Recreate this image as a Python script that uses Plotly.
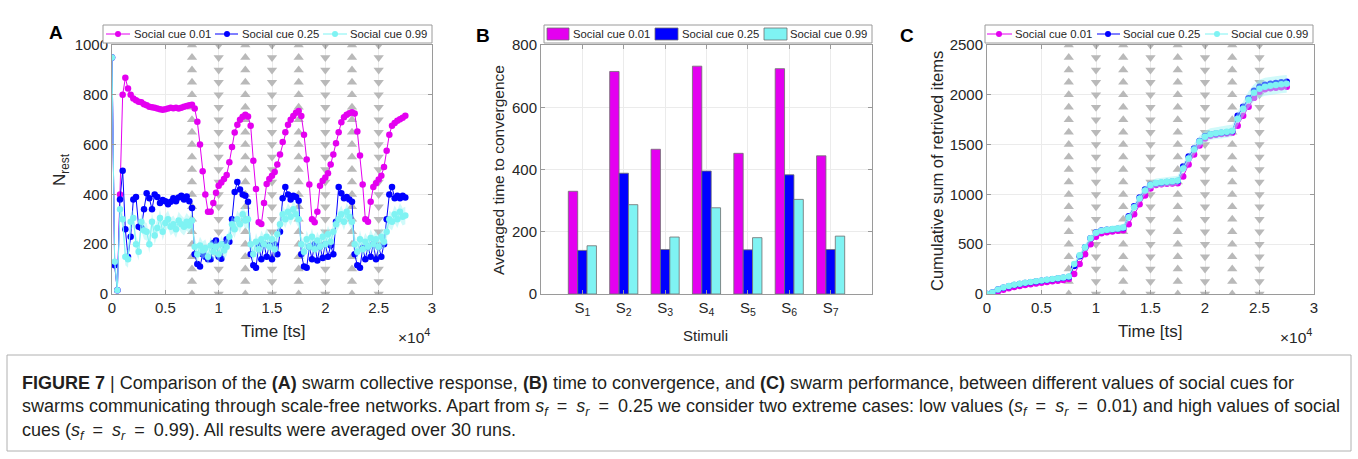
import numpy as np
import plotly.graph_objects as go

W, H = 1358, 459

# ---------------- Panel A data (time step 250 ts) ----------------
a_time = np.arange(0, 27501, 250)
a_cue001 = [950, 120, 15, 400, 800, 868, 825, 800, 785, 778, 772, 770, 762, 758, 752, 750,
            748, 745, 742, 740, 742, 745, 748, 746, 748, 745, 748, 752, 755, 758, 760, 745,
            692, 600, 493, 400, 330, 330, 365, 407, 435, 448, 462, 478, 529, 590, 649, 680,
            700, 712, 720, 713, 676, 535, 422, 288, 281, 365, 442, 462, 475, 490, 520, 560,
            610, 650, 680, 700, 715, 728, 735, 715, 640, 540, 440, 300, 288, 330, 435, 455,
            468, 485, 520, 560, 605, 650, 690, 710, 720, 726, 730, 725, 653, 556, 440, 300,
            290, 370, 430, 445, 460, 475, 510, 575, 640, 676, 687, 696, 702, 708, 716]
a_cue025 = [950, 115, 15, 380, 495, 260, 150, 230, 380, 390, 270, 265, 340, 405, 385, 340,
            400, 390, 365, 378, 372, 360, 370, 385, 372, 388, 395, 380, 392, 372, 345, 160,
            120, 110, 160, 150, 140, 140, 205, 215, 150, 142, 200, 220, 210, 300, 410, 450,
            420, 400, 395, 370, 160, 115, 105, 195, 140, 200, 150, 195, 140, 200, 160, 250,
            385, 430, 400, 380, 395, 390, 375, 160, 110, 105, 190, 140, 200, 135, 190, 145,
            200, 150, 195, 160, 290, 430, 405, 385, 390, 380, 370, 160, 115, 105, 185, 140,
            190, 150, 200, 140, 190, 150, 200, 300, 400, 430, 385, 395, 385, 395, 388]
a_cue099 = [950, 130, 15, 340, 300, 150, 140, 290, 305, 200, 170, 290, 255, 250, 200, 290,
            235, 265, 305, 250, 285, 300, 270, 280, 260, 295, 280, 270, 290, 275, 295, 190,
            160, 195, 175, 185, 150, 195, 170, 190, 160, 200, 175, 190, 230, 280, 260, 300,
            280, 320, 295, 300, 200, 160, 210, 180, 220, 200, 230, 190, 220, 180, 240, 280,
            320, 300, 330, 310, 340, 320, 300, 200, 170, 220, 190, 230, 180, 215, 190, 230,
            200, 240, 210, 250, 280, 300, 320, 290, 330, 310, 290, 200, 170, 220, 180, 210,
            190, 225, 200, 220, 190, 230, 210, 250, 300, 290, 320, 300, 330, 310, 315]
a_cue099_sem = 35

# ---------------- Panel B data ----------------
b_stimuli = ["S<sub>1</sub>", "S<sub>2</sub>", "S<sub>3</sub>", "S<sub>4</sub>",
             "S<sub>5</sub>", "S<sub>6</sub>", "S<sub>7</sub>"]
b_cue001 = [330, 715, 465, 732, 452, 724, 444]
b_cue025 = [140, 388, 143, 395, 142, 383, 143]
b_cue099 = [155, 287, 183, 277, 181, 304, 186]

# ---------------- Panel C data (time step 500 ts) ----------------
c_time = np.arange(0, 27501, 500)
c_cue001 = [0, 8, 25, 42, 58, 70, 80, 90, 98, 106, 113, 120, 127, 134, 141, 150,
            200, 300, 400, 500, 575, 610, 620, 628, 634, 640, 700, 800, 900, 990, 1060,
            1095, 1102, 1106, 1110, 1112, 1180, 1300, 1400, 1490, 1560, 1590, 1600, 1606,
            1612, 1620, 1690, 1790, 1880, 1970, 2030, 2055, 2065, 2070, 2075, 2080]
c_cue025 = [0, 15, 45, 62, 78, 90, 100, 110, 118, 126, 133, 140, 147, 155, 162, 170,
            280, 380, 470, 560, 618, 638, 645, 650, 655, 662, 780, 880, 970, 1050, 1098,
            1112, 1118, 1124, 1130, 1135, 1280, 1380, 1460, 1535, 1585, 1605, 1612, 1618,
            1625, 1635, 1790, 1880, 1965, 2040, 2080, 2100, 2110, 2118, 2125, 2130]
c_cue099 = [0, 15, 45, 65, 80, 92, 103, 112, 120, 128, 136, 143, 150, 158, 165, 175,
            300, 390, 470, 560, 615, 635, 645, 652, 658, 668, 770, 870, 960, 1040, 1095,
            1115, 1122, 1128, 1133, 1140, 1260, 1360, 1450, 1530, 1580, 1605, 1615, 1622,
            1628, 1640, 1760, 1860, 1950, 2020, 2060, 2080, 2090, 2098, 2105, 2110]
c_cue099_sem = [0, 3, 5, 5, 6, 6, 7, 7, 8, 8, 8, 9, 9, 10, 10, 10,
                20, 25, 28, 30, 30, 30, 30, 32, 32, 34, 40, 45, 45, 45, 45,
                45, 45, 46, 46, 48, 55, 60, 60, 60, 60, 60, 60, 62, 62, 62,
                70, 80, 85, 85, 90, 90, 90, 90, 90, 90]

# stimulus switch times (up / down triangles)
stim_up = [7500, 12500, 17500, 22500]
stim_down = [10000, 15000, 20000, 25000]

series_names = ["Social cue 0.01", "Social cue 0.25", "Social cue 0.99"]
MAG, BLU, CYA = "#e400f0", "#0000ff", "#7ff3f3"
COLORS = [MAG, BLU, CYA]
TRI = "#b9b9b9"
FONT = "Liberation Sans, Arial, Helvetica, sans-serif"
TXT = "#262626"


def px(x):
    return x / W


def py(y):
    return 1 - y / H


fig = go.Figure()


def triangles(xa, ya, ymax, n):
    lev = np.linspace(0, ymax, n)
    for times, sym in ((stim_up, "triangle-up"), (stim_down, "triangle-down")):
        xs, ys = [], []
        for t in times:
            xs += [t] * n
            ys += list(lev)
        fig.add_trace(go.Scatter(x=xs, y=ys, mode="markers", xaxis=xa, yaxis=ya,
                                 marker=dict(symbol=sym, size=9, color=TRI, line=dict(width=0)),
                                 showlegend=False, hoverinfo="skip"))


def line_series(xa, ya, t, vals, color, name):
    fig.add_trace(go.Scatter(x=t, y=vals, mode="lines+markers", name=name,
                             line=dict(color=color, width=1), marker=dict(size=6.5, color=color),
                             xaxis=xa, yaxis=ya))


def band(xa, ya, t, upper, lower):
    fig.add_trace(go.Scatter(x=np.concatenate([t, t[::-1]]), y=list(upper) + list(lower)[::-1],
                             fill="toself", fillcolor="rgba(150,245,245,0.45)",
                             line=dict(width=0), mode="lines", showlegend=False,
                             hoverinfo="skip", xaxis=xa, yaxis=ya))


# ---------- Panel A ----------
triangles("x", "y", 1000, 21)
line_series("x", "y", a_time, a_cue001, MAG, series_names[0])
line_series("x", "y", a_time, a_cue025, BLU, series_names[1])
band("x", "y", a_time, [v + a_cue099_sem for v in a_cue099], [v - a_cue099_sem for v in a_cue099])
line_series("x", "y", a_time, a_cue099, CYA, series_names[2])

# ---------- Panel B ----------
for vals, col, nm in zip((b_cue001, b_cue025, b_cue099), COLORS, series_names):
    fig.add_trace(go.Bar(x=list(range(1, 8)), y=vals, name=nm,
                         marker=dict(color=col, line=dict(color="#6e6e6e", width=0.8)),
                         xaxis="x2", yaxis="y2"))

# ---------- Panel C ----------
triangles("x3", "y3", 2500, 21)
line_series("x3", "y3", c_time, c_cue001, MAG, series_names[0])
line_series("x3", "y3", c_time, c_cue025, BLU, series_names[1])
band("x3", "y3", c_time, [v + s for v, s in zip(c_cue099, c_cue099_sem)],
     [v - s for v, s in zip(c_cue099, c_cue099_sem)])
line_series("x3", "y3", c_time, c_cue099, CYA, series_names[2])

axcommon = dict(showline=True, linecolor="#9a9a9a", linewidth=1, mirror="ticks",
                ticks="inside", ticklen=4, tickcolor="#9a9a9a", showgrid=True,
                gridcolor="#ebebeb", gridwidth=1, zeroline=False, automargin=False,
                tickfont=dict(family=FONT, size=15, color=TXT))

ydom = [py(294), py(45)]
time_ticks = dict(tickmode="array", tickvals=[0, 5000, 10000, 15000, 20000, 25000, 30000],
                  ticktext=["0", "0.5", "1", "1.5", "2", "2.5", "3"], range=[0, 30000])

fig.update_layout(
    template="none", width=W, height=H, margin=dict(l=0, r=0, t=0, b=0),
    paper_bgcolor="white", plot_bgcolor="white", showlegend=False,
    barmode="group", bargap=0.32, bargroupgap=0,
    xaxis=dict(domain=[px(112), px(432)], anchor="y", **time_ticks, **axcommon),
    yaxis=dict(domain=ydom, anchor="x", range=[0, 1000], dtick=200, **axcommon),
    xaxis2=dict(domain=[px(541), px(872)], anchor="y2", range=[0, 8], tickmode="array",
                tickvals=list(range(1, 8)), ticktext=b_stimuli, **axcommon),
    yaxis2=dict(domain=ydom, anchor="x2", range=[0, 800], dtick=200, **axcommon),
    xaxis3=dict(domain=[px(987), px(1314)], anchor="y3", **time_ticks, **axcommon),
    yaxis3=dict(domain=ydom, anchor="x3", range=[0, 2500], dtick=500, **axcommon),
)


def ann(text, x, y, size=15, bold=False, angle=0, xanchor="center", color=TXT, family=FONT):
    fig.add_annotation(text=f"<b>{text}</b>" if bold else text, x=px(x), y=py(y),
                       xref="paper", yref="paper", showarrow=False, textangle=angle,
                       xanchor=xanchor, yanchor="middle",
                       font=dict(family=family, size=size, color=color))


def rect(x0, y0, x1, y1, line_color, fill="rgba(0,0,0,0)", lw=1):
    fig.add_shape(type="rect", xref="paper", yref="paper", x0=px(x0), x1=px(x1),
                  y0=py(y1), y1=py(y0), line=dict(color=line_color, width=lw), fillcolor=fill)


# ---------- legends (drawn as boxes above each panel) ----------
LY = 34


def line_legend(box, entries):
    rect(box[0], 25, box[1], 43, "#9a9a9a", fill="white")
    for (x0, x1, xm, xt), col, nm in zip(entries, COLORS, series_names):
        fig.add_shape(type="line", xref="paper", yref="paper", x0=px(x0), x1=px(x1),
                      y0=py(LY), y1=py(LY), line=dict(color=col, width=1))
        fig.add_shape(type="circle", xref="paper", yref="paper", x0=px(xm - 3), x1=px(xm + 3),
                      y0=py(LY + 3), y1=py(LY - 3), line=dict(color=col, width=0), fillcolor=col)
        ann(nm, xt, LY, size=11.3, xanchor="left")


line_legend((103, 432), [(106, 130, 118, 132), (215, 238, 227, 240), (323, 347, 335, 348)])
line_legend((985, 1313), [(987, 1012, 999, 1013), (1097, 1120, 1108, 1121), (1205, 1228, 1217, 1229)])

rect(544, 25, 872, 43, "#9a9a9a", fill="white")
for (x0, x1, xt), col, nm in zip([(547, 569, 571), (655, 678, 680), (764, 787, 788)],
                                 COLORS, series_names):
    rect(x0, 28, x1, 40, "#6e6e6e", fill=col, lw=0.8)
    ann(nm, xt, LY, size=11.3, xanchor="left")

# panel letters
ann("A", 56, 33, size=19, bold=True, color="black")
ann("B", 483, 36, size=19, bold=True, color="black")
ann("C", 907, 35, size=19, bold=True, color="black")
# axis titles
ann("N<sub>rest</sub>", 61, 170, size=17, angle=-90)
ann("Time [ts]", 273, 331, size=17)
ann("×10<sup>4</sup>", 432, 336, size=15.5, xanchor="right")
ann("Averaged time to convergence", 498, 170, size=15.5, angle=-90)
ann("Stimuli", 705, 335, size=15)
ann("Cumulative sum of retrived items", 937, 171, size=16.5, angle=-90)
ann("Time [ts]", 1150, 331, size=17)
ann("×10<sup>4</sup>", 1314, 336, size=15.5, xanchor="right")

# caption box and text
rect(7, 355, 1351, 451, "#b0b0b0")
CAP = "Liberation Sans, Arial, sans-serif"
sf = "<i>s<sub>f</sub></i>"
sr = "<i>s<sub>r</sub></i>"
eq = "\u2002=\u2002"
cap_lines = [
    "<b>FIGURE 7</b> | Comparison of the <b>(A)</b> swarm collective response, <b>(B)</b> time to "
    "convergence, and <b>(C)</b> swarm performance, between different values of social cues for",
    f"swarms communicating through scale-free networks. Apart from {sf}{eq}{sr}{eq}0.25 we consider "
    f"two extreme cases: low values ({sf}{eq}{sr}{eq}0.01) and high values of social",
    f"cues ({sf}{eq}{sr}{eq}0.99). All results were averaged over 30 runs.",
]
for i, line in enumerate(cap_lines):
    ann(line, 20, 383 + 24 * i, size=18, xanchor="left", color="#231f20", family=CAP)

fig.write_html("out.html")
